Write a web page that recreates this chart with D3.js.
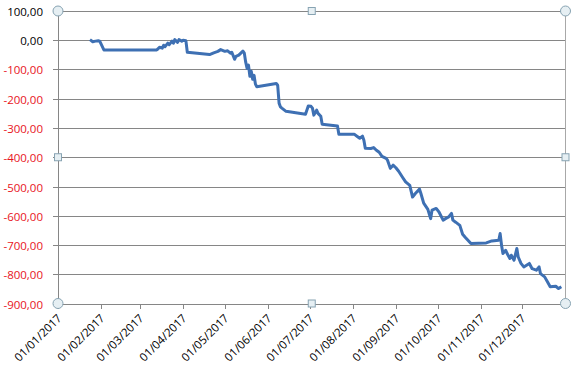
<!DOCTYPE html><meta charset="utf-8">
<title>Cumulative result 2017</title>
<style>
  body{margin:0;background:#fff}
  svg{display:block}
  text{font-family:"Open Sans",sans-serif;font-size:11.5px}
</style>
<script src="https://d3js.org/d3.v7.min.js"></script>
<body><script>
const W = 573, H = 371;

// readings from the picture: date of each step, running total
const dates = [
  "2017-01-24","2017-01-26","2017-01-28","2017-01-30","2017-01-31","2017-02-03",
  "2017-03-13","2017-03-14","2017-03-15","2017-03-17","2017-03-18","2017-03-19",
  "2017-03-21","2017-03-22","2017-03-24","2017-03-25","2017-03-26","2017-03-28",
  "2017-03-29","2017-03-31","2017-04-01","2017-04-03","2017-04-04","2017-04-20",
  "2017-04-23","2017-04-26","2017-04-28","2017-05-01","2017-05-03","2017-05-05",
  "2017-05-06","2017-05-08","2017-05-09","2017-05-11","2017-05-14","2017-05-15",
  "2017-05-16","2017-05-17","2017-05-18","2017-05-19","2017-05-20","2017-05-21",
  "2017-05-22","2017-05-23","2017-05-24","2017-06-07","2017-06-08","2017-06-09",
  "2017-06-10","2017-06-11","2017-06-14","2017-06-28","2017-06-30","2017-07-02",
  "2017-07-03","2017-07-04","2017-07-06","2017-07-07","2017-07-09","2017-07-10",
  "2017-07-21","2017-07-22","2017-08-02","2017-08-04","2017-08-06","2017-08-08",
  "2017-08-09","2017-08-10","2017-08-14","2017-08-16","2017-08-18","2017-08-20",
  "2017-08-22","2017-08-25","2017-08-26","2017-08-28","2017-08-30","2017-09-01",
  "2017-09-03","2017-09-06","2017-09-08","2017-09-11","2017-09-13","2017-09-15",
  "2017-09-18","2017-09-19","2017-09-21","2017-09-24","2017-09-26","2017-09-27",
  "2017-09-30","2017-10-02","2017-10-05","2017-10-07","2017-10-09","2017-10-11",
  "2017-10-12","2017-10-14","2017-10-17","2017-10-19","2017-10-21","2017-10-25",
  "2017-11-05","2017-11-09","2017-11-14","2017-11-15","2017-11-16","2017-11-17",
  "2017-11-19","2017-11-20","2017-11-22","2017-11-23","2017-11-25","2017-11-27",
  "2017-11-28","2017-11-30","2017-12-02","2017-12-06","2017-12-08","2017-12-11",
  "2017-12-13","2017-12-14","2017-12-17","2017-12-19","2017-12-21","2017-12-25",
  "2017-12-27","2017-12-29"
];
const values = [
  2,-5,-3,-2,-3,-33,
  -33,-29,-24,-27,-17,-22,
  -10,-15,-3,-10,2,-7,
  2,-3,0,-2,-41,-49,
  -43,-38,-32,-38,-36,-44,
  -41,-65,-55,-51,-37,-44,
  -75,-96,-85,-123,-106,-133,
  -120,-150,-159,-148,-154,-215,
  -228,-232,-243,-253,-225,-226,
  -232,-256,-239,-250,-260,-287,
  -293,-321,-321,-328,-335,-328,
  -342,-369,-370,-367,-376,-383,
  -397,-404,-410,-438,-427,-436,
  -448,-470,-484,-496,-536,-524,
  -509,-524,-557,-578,-610,-581,
  -575,-587,-615,-609,-604,-592,
  -615,-622,-633,-663,-674,-695,
  -693,-686,-684,-661,-701,-729,
  -718,-729,-746,-735,-752,-712,
  -741,-763,-775,-763,-781,-786,
  -775,-798,-809,-826,-843,-841,
  -849,-843
];
const yTicks = d3.range(100, -901, -100);
const monthTicks = d3.range(12).map(m => new Date(2017, m, 1));

const parse = d3.timeParse("%Y-%m-%d");
const pts = dates.map((d, i) => ({date: parse(d), v: values[i]}));

const x = d3.scaleTime().domain([new Date(2017,0,1), new Date(2018,0,1)]).range([58, 565.5]);
const y = d3.scaleLinear().domain([-900, 100]).range([303.5, 11]);

const svg = d3.select("body").append("svg").attr("width", W).attr("height", H);
const grey = "#868686";

// horizontal gridlines
svg.append("g").selectAll("line").data(yTicks).join("line")
  .attr("x1", 53).attr("x2", 565.5)
  .attr("y1", d => Math.round(y(d)) + .5).attr("y2", d => Math.round(y(d)) + .5)
  .attr("stroke", grey);

// y labels, negatives in red
const fmt = d => d3.format(".2f")(d).replace(".", ",").replace("−", "-");
svg.append("g").selectAll("text").data(yTicks).join("text")
  .attr("x", 43).attr("y", d => Math.round(y(d)) + 4.5)
  .attr("text-anchor", "end")
  .attr("fill", d => d < 0 ? "#e8141c" : "#000")
  .text(fmt);

// axes lines
svg.append("line").attr("x1", 58.5).attr("x2", 58.5).attr("y1", 11).attr("y2", 304).attr("stroke", grey);
svg.append("line").attr("x1", 565.5).attr("x2", 565.5).attr("y1", 11).attr("y2", 304).attr("stroke", "#a8a8a8");

// x ticks and rotated labels
const xg = svg.append("g").selectAll("g").data(monthTicks).join("g")
  .attr("transform", d => `translate(${Math.round(x(d)) + .5},${Math.round(y(-900))})`);
xg.append("line").attr("y1", 0).attr("y2", 5).attr("stroke", grey);
xg.append("text")
  .attr("text-anchor", "end")
  .attr("font-size", "12px")
  .attr("transform", "translate(4,15) rotate(-45)")
  .attr("fill", "#000")
  .text(d3.timeFormat("%d/%m/%Y"));

// series
svg.append("path").datum(pts)
  .attr("fill", "none").attr("stroke", "#3e70b3").attr("stroke-width", 3)
  .attr("stroke-linejoin", "round")
  .attr("d", d3.line().x(d => x(d.date)).y(d => y(d.v)));

// selection handles of the chart area
const hx = [x.range()[0], x.range()[1]], hy = [y.range()[1], y.range()[0]];
const corners = [[hx[0],hy[0]],[hx[1],hy[0]],[hx[0],hy[1]],[hx[1],hy[1]]];
const mids = [[(hx[0]+hx[1])/2,hy[0]],[(hx[0]+hx[1])/2,hy[1]],[hx[0],(hy[0]+hy[1])/2],[hx[1],(hy[0]+hy[1])/2]];
svg.append("g").selectAll("circle").data(corners).join("circle")
  .attr("cx", d => d[0]).attr("cy", d => d[1]).attr("r", 5)
  .attr("fill", "#e6eff3").attr("stroke", "#87a3b2");
svg.append("g").selectAll("rect").data(mids).join("rect")
  .attr("x", d => d[0] - 3.5).attr("y", d => d[1] - 3.5).attr("width", 7).attr("height", 7)
  .attr("fill", "#e6eff3").attr("stroke", "#87a3b2");
</script>
